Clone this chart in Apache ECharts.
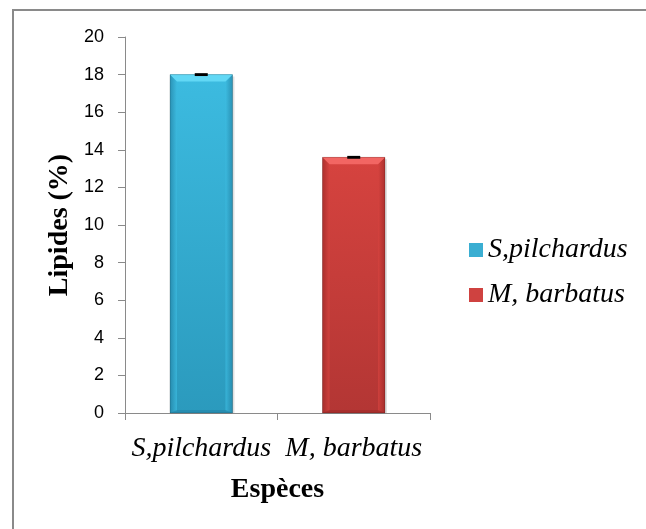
<!DOCTYPE html>
<html>
<head>
<meta charset="utf-8">
<script src="https://cdn.jsdelivr.net/npm/echarts@6/dist/echarts.min.js"></script>
<style>
  html, body { margin: 0; padding: 0; background: #fff; overflow: hidden; }
  #frame { position: absolute; left: 12px; top: 9px; width: 700px; height: 600px;
           border: 2px solid #8a8a8a; box-sizing: border-box; }
  #chart { position: absolute; left: 0; top: 0; width: 646px; height: 529px; }
</style>
</head>
<body>
<div id="frame"></div>
<div id="chart"></div>
<script>
// Lipid content by species
const categories = ['S,pilchardus', 'M, barbatus'];
const speciesNames = ['S,pilchardus', 'M, barbatus'];
const lipidValues = [18.0, 13.6];
const lipidErrors = [0.05, 0.05];
const yTicks = [0, 2, 4, 6, 8, 10, 12, 14, 16, 18, 20];

const palettes = [
  { main: '#3cbbe0', light: '#62d8f5', dark: '#2586a8', bottom: '#2b9abd', legend: '#3aaed2' },
  { main: '#d6433f', light: '#f26663', dark: '#a02b29', bottom: '#b33634', legend: '#cf4240' }
];

function bevelBar(pal) {
  return function (params, api) {
    const cat = api.value(0);
    const val = api.value(1);
    const err = api.value(2);
    const top = api.coord([cat, val]);
    const base = api.coord([cat, 0]);
    const band = api.size([1, 0])[0];
    const w = band * 0.41;
    const x0 = top[0] - w / 2;
    const x1 = top[0] + w / 2;
    const yT = top[1];
    const yB = base[1];
    const bev = 7;
    const errHi = api.coord([cat, val + err])[1];
    const errLo = api.coord([cat, val - err])[1];
    return {
      type: 'group',
      children: [
        { type: 'rect', shape: { x: x0 + 2, y: yT + 2, width: w, height: yB - yT - 2 },
          style: { fill: 'rgba(0,0,0,0.12)' } },
        { type: 'rect', shape: { x: x0, y: yT, width: w, height: yB - yT },
          style: { fill: new echarts.graphic.LinearGradient(0, 0, 0, 1, [
            { offset: 0, color: pal.main }, { offset: 1, color: pal.bottom }]) } },
        // left and right bevel edges
        { type: 'polygon', shape: { points: [[x0, yT], [x0 + bev, yT + bev], [x0 + bev, yB - 2], [x0, yB]] },
          style: { fill: new echarts.graphic.LinearGradient(0, 0, 1, 0, [
            { offset: 0, color: pal.dark }, { offset: 1, color: pal.main }]), opacity: 0.75 } },
        { type: 'polygon', shape: { points: [[x1, yT], [x1 - bev, yT + bev], [x1 - bev, yB - 2], [x1, yB]] },
          style: { fill: new echarts.graphic.LinearGradient(1, 0, 0, 0, [
            { offset: 0, color: pal.dark }, { offset: 1, color: pal.main }]), opacity: 0.75 } },
        // top bevel
        { type: 'polygon', shape: { points: [[x0, yT], [x1, yT], [x1 - bev, yT + bev], [x0 + bev, yT + bev]] },
          style: { fill: pal.light } },
        // bottom bevel
        { type: 'polygon', shape: { points: [[x0, yB], [x1, yB], [x1 - bev, yB - 3], [x0 + bev, yB - 3]] },
          style: { fill: pal.dark, opacity: 0.6 } },
        { type: 'rect', shape: { x: x0, y: yT, width: w, height: yB - yT },
          style: { fill: 'none', stroke: 'rgba(0,0,0,0.18)', lineWidth: 1 } },
        // error bar
        { type: 'rect', shape: { x: top[0] - 6.5, y: errHi - 0.5, width: 13, height: Math.max(errLo - errHi + 1, 2.5) },
          style: { fill: '#000' } }
      ]
    };
  };
}

const series = speciesNames.map((name, i) => ({
  name: name,
  type: 'custom',
  renderItem: bevelBar(palettes[i]),
  itemStyle: { color: palettes[i].legend },
  encode: { x: 0, y: 1 },
  data: [[i, lipidValues[i], lipidErrors[i]]],
  z: 3
}));

const chart = echarts.init(document.getElementById('chart'), null, { renderer: 'canvas' });
chart.setOption({
  animation: false,
  backgroundColor: 'transparent',
  grid: { left: 125, right: 216, top: 37, bottom: 116, containLabel: false },
  legend: {
    orient: 'vertical',
    left: 469,
    top: 236,
    padding: 0,
    itemWidth: 14,
    itemHeight: 14,
    itemGap: 17,
    icon: 'rect',
    textStyle: { fontFamily: 'Liberation Serif', fontStyle: 'italic', fontSize: 28, color: '#000' },
    data: speciesNames
  },
  xAxis: {
    type: 'category',
    data: categories,
    boundaryGap: true,
    name: 'Espèces',
    nameLocation: 'middle',
    nameGap: 63,
    nameTextStyle: { fontFamily: 'Liberation Serif', fontWeight: 'bold', fontSize: 28, color: '#000' },
    axisLine: { lineStyle: { color: '#8a8a8a', width: 1 } },
    axisTick: { show: true, alignWithLabel: false, length: 7, lineStyle: { color: '#8a8a8a' } },
    axisLabel: { interval: 0, hideOverlap: false, fontFamily: 'Liberation Serif', fontStyle: 'italic', fontSize: 28, color: '#000', margin: 22 }
  },
  yAxis: {
    type: 'value',
    min: yTicks[0],
    max: yTicks[yTicks.length - 1],
    interval: 2,
    name: 'Lipides (%)',
    nameLocation: 'middle',
    nameGap: 51,
    nameRotate: 90,
    nameTextStyle: { fontFamily: 'Liberation Serif', fontWeight: 'bold', fontSize: 28, color: '#000' },
    axisLine: { show: true, lineStyle: { color: '#8a8a8a', width: 1 } },
    axisTick: { show: true, length: 7, lineStyle: { color: '#8a8a8a' } },
    axisLabel: { fontFamily: 'Liberation Sans', fontSize: 18, color: '#000', margin: 21 },
    splitLine: { show: false }
  },
  series: series
});
</script>
</body>
</html>
